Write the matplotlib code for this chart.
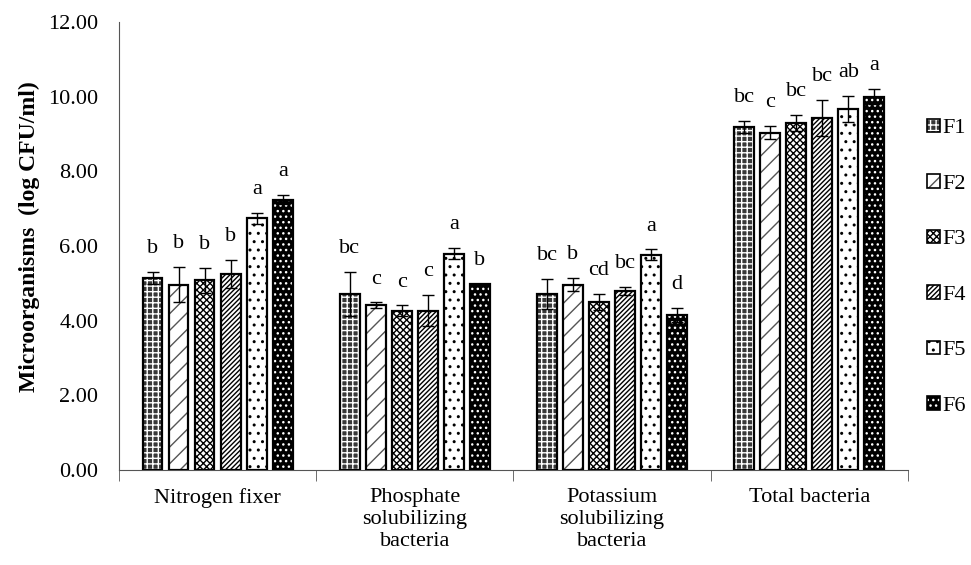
import numpy as np
import matplotlib
matplotlib.use('Agg')
import matplotlib.pyplot as plt
from matplotlib.patches import Patch
from matplotlib.legend_handler import HandlerTuple

plt.rcParams['font.family'] = ['Liberation Serif', 'DejaVu Serif']
plt.rcParams['hatch.linewidth'] = 1.0

# Данные
groups = ['Nitrogen fixer', 'Phosphate\nsolubilizing\nbacteria',
          'Potassium\nsolubilizing\nbacteria', 'Total bacteria']
series = ['F1', 'F2', 'F3', 'F4', 'F5', 'F6']

F1 = [5.15, 4.72, 4.72, 9.20]
F2 = [4.97, 4.42, 4.97, 9.04]
F3 = [5.08, 4.27, 4.50, 9.30]
F4 = [5.26, 4.27, 4.80, 9.44]
F5 = [6.74, 5.79, 5.77, 9.66]
F6 = [7.24, 4.99, 4.16, 10.00]

F1_err = [0.16, 0.58, 0.40, 0.16]
F2_err = [0.48, 0.07, 0.18, 0.17]
F3_err = [0.33, 0.14, 0.22, 0.21]
F4_err = [0.37, 0.42, 0.10, 0.48]
F5_err = [0.14, 0.15, 0.14, 0.35]
F6_err = [0.12, 0.00, 0.19, 0.20]

F1_lbl = ['b', 'bc', 'bc', 'bc']
F2_lbl = ['b', 'c', 'b', 'c']
F3_lbl = ['b', 'c', 'cd', 'bc']
F4_lbl = ['b', 'c', 'bc', 'bc']
F5_lbl = ['a', 'a', 'a', 'ab']
F6_lbl = ['a', 'b', 'd', 'a']

values = [F1, F2, F3, F4, F5, F6]
errors = [F1_err, F2_err, F3_err, F4_err, F5_err, F6_err]
letters = [F1_lbl, F2_lbl, F3_lbl, F4_lbl, F5_lbl, F6_lbl]

# Стили: (заливка, цвет штриховки, штриховка)
styles = [
    ('#383838', 'white', '+++'),
    ('white', '#555555', '//'),
    ('white', 'black', 'xxxxx'),
    ('white', 'black', '///////'),
    ('white', 'black', '..'),
    ('black', 'white', '...'),
]

fig = plt.figure(figsize=(9.71, 5.65), dpi=100)
ax = fig.add_axes([0.1226, 0.168, 0.8124, 0.793])

x = np.arange(len(groups))
pitch = 0.132
width = 0.10
handles = []
for i, (vals, errs, lbls) in enumerate(zip(values, errors, letters)):
    face, hcol, hatch = styles[i]
    pos = x + (i - 2.5) * pitch
    ax.bar(pos, vals, width, color=face, edgecolor=hcol, hatch=hatch, lw=0, zorder=2)
    ax.bar(pos, vals, width, fill=False, edgecolor='black', lw=1.6, zorder=3)
    ax.errorbar(pos, vals, yerr=errs, fmt='none', ecolor='black',
                elinewidth=1, capsize=4, capthick=1, zorder=4)
    for p, v, e, t in zip(pos, vals, errs, lbls):
        ax.annotate(t, (p, v + e), xytext=(0, 10), textcoords='offset points',
                    ha='center', va='bottom', fontsize=16)
    handles.append((Patch(facecolor=face, edgecolor=hcol, hatch=hatch, lw=0),
                    Patch(fill=False, edgecolor='black', lw=1.2)))

# Оси
ax.set_xlim(-0.5, 3.5)
ax.set_ylim(0, 12)
ax.set_yticks(np.arange(0, 12.1, 2))
ax.set_yticklabels([f'{v:.2f}' for v in np.arange(0, 12.1, 2)], fontsize=16)
ax.tick_params(axis='y', length=0, pad=15)
ax.set_xticks(x)
ax.set_xticklabels(groups, fontsize=16, linespacing=1.2)
ax.tick_params(axis='x', length=0, pad=13)
ax.set_xticks(np.arange(-0.5, 3.6, 1), minor=True)
ax.tick_params(axis='x', which='minor', length=8, color='#555555', direction='out')
for s in ['top', 'right']:
    ax.spines[s].set_visible(False)
for s in ['left', 'bottom']:
    ax.spines[s].set_color('#555555')
ax.set_ylabel('Microorganisms  (log CFU/ml)', fontsize=17, fontweight='bold')
ax.yaxis.set_label_coords(-0.1, 0.52)

fig.legend(handles, series, loc='upper left', bbox_to_anchor=(0.955, 0.79),
           frameon=False, fontsize=16, handlelength=0.55, handleheight=0.55,
           handletextpad=0.15, labelspacing=1.62, borderpad=0, borderaxespad=0,
           handler_map={tuple: HandlerTuple(ndivide=1)})

fig.savefig('out.png', dpi=100)
